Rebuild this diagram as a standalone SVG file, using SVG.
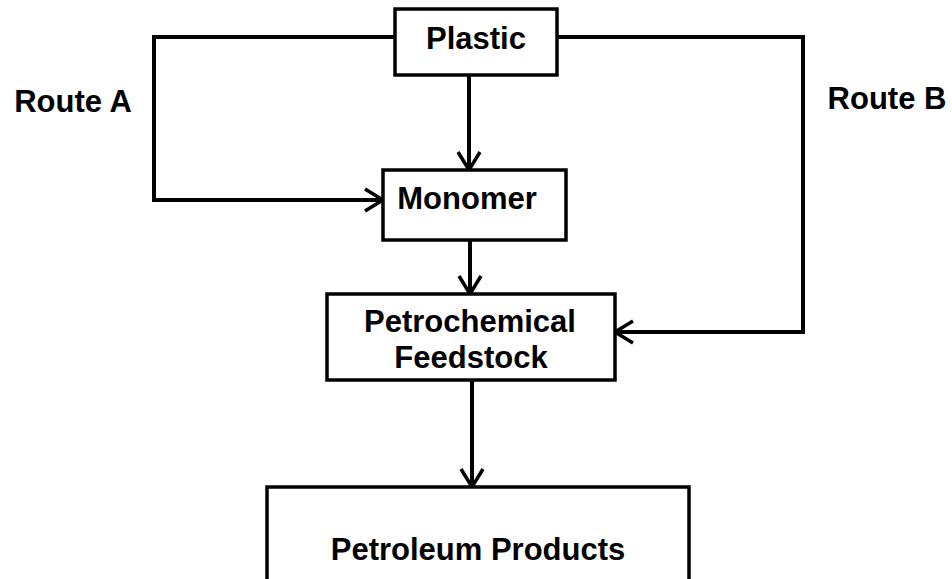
<svg xmlns="http://www.w3.org/2000/svg" width="952" height="579" viewBox="0 0 952 579">
<style>
.box{fill:#fff;stroke:#000;stroke-width:3.5}
.lbl{font-family:"Liberation Sans",Arial,sans-serif;font-weight:bold;font-size:31px;fill:#000;text-anchor:middle}
.con{fill:none;stroke:#000;stroke-width:4;stroke-linejoin:miter}
</style>
<defs>
<marker id="arr" markerUnits="userSpaceOnUse" markerWidth="30" markerHeight="30" viewBox="-22 -15 26 30" refX="0" refY="0" orient="auto">
<path d="M-18,-11 L0,0 L-18,11" fill="none" stroke="#000" stroke-width="3.5"/>
</marker>
</defs>
<rect width="952" height="579" fill="#fff"/>
<g id="connectors">
<polyline class="con" points="395,37 154,37 154,200 383,200" marker-end="url(#arr)"/>
<polyline class="con" points="557,37 803,37 803,332 615,332" marker-end="url(#arr)"/>
<line class="con" x1="469" y1="75" x2="469" y2="170" marker-end="url(#arr)"/>
<line class="con" x1="470" y1="240" x2="470" y2="294" marker-end="url(#arr)"/>
<line class="con" x1="472" y1="380" x2="472" y2="487" marker-end="url(#arr)"/>
</g>
<g id="plastic">
<rect class="box" x="395" y="9" width="162" height="66"/>
<text class="lbl" x="476" y="49">Plastic</text>
</g>
<g id="monomer">
<rect class="box" x="383" y="170" width="183" height="70"/>
<text class="lbl" x="467" y="209">Monomer</text>
</g>
<g id="feedstock">
<rect class="box" x="327" y="294" width="288" height="86"/>
<text class="lbl" x="470" y="332">Petrochemical</text>
<text class="lbl" x="471" y="368">Feedstock</text>
</g>
<g id="petroleum">
<rect class="box" x="267" y="487" width="422" height="110"/>
<text class="lbl" x="478" y="560">Petroleum Products</text>
</g>
<g id="labels">
<text class="lbl" x="73" y="112">Route A</text>
<text class="lbl" x="887" y="109">Route B</text>
</g>
</svg>
